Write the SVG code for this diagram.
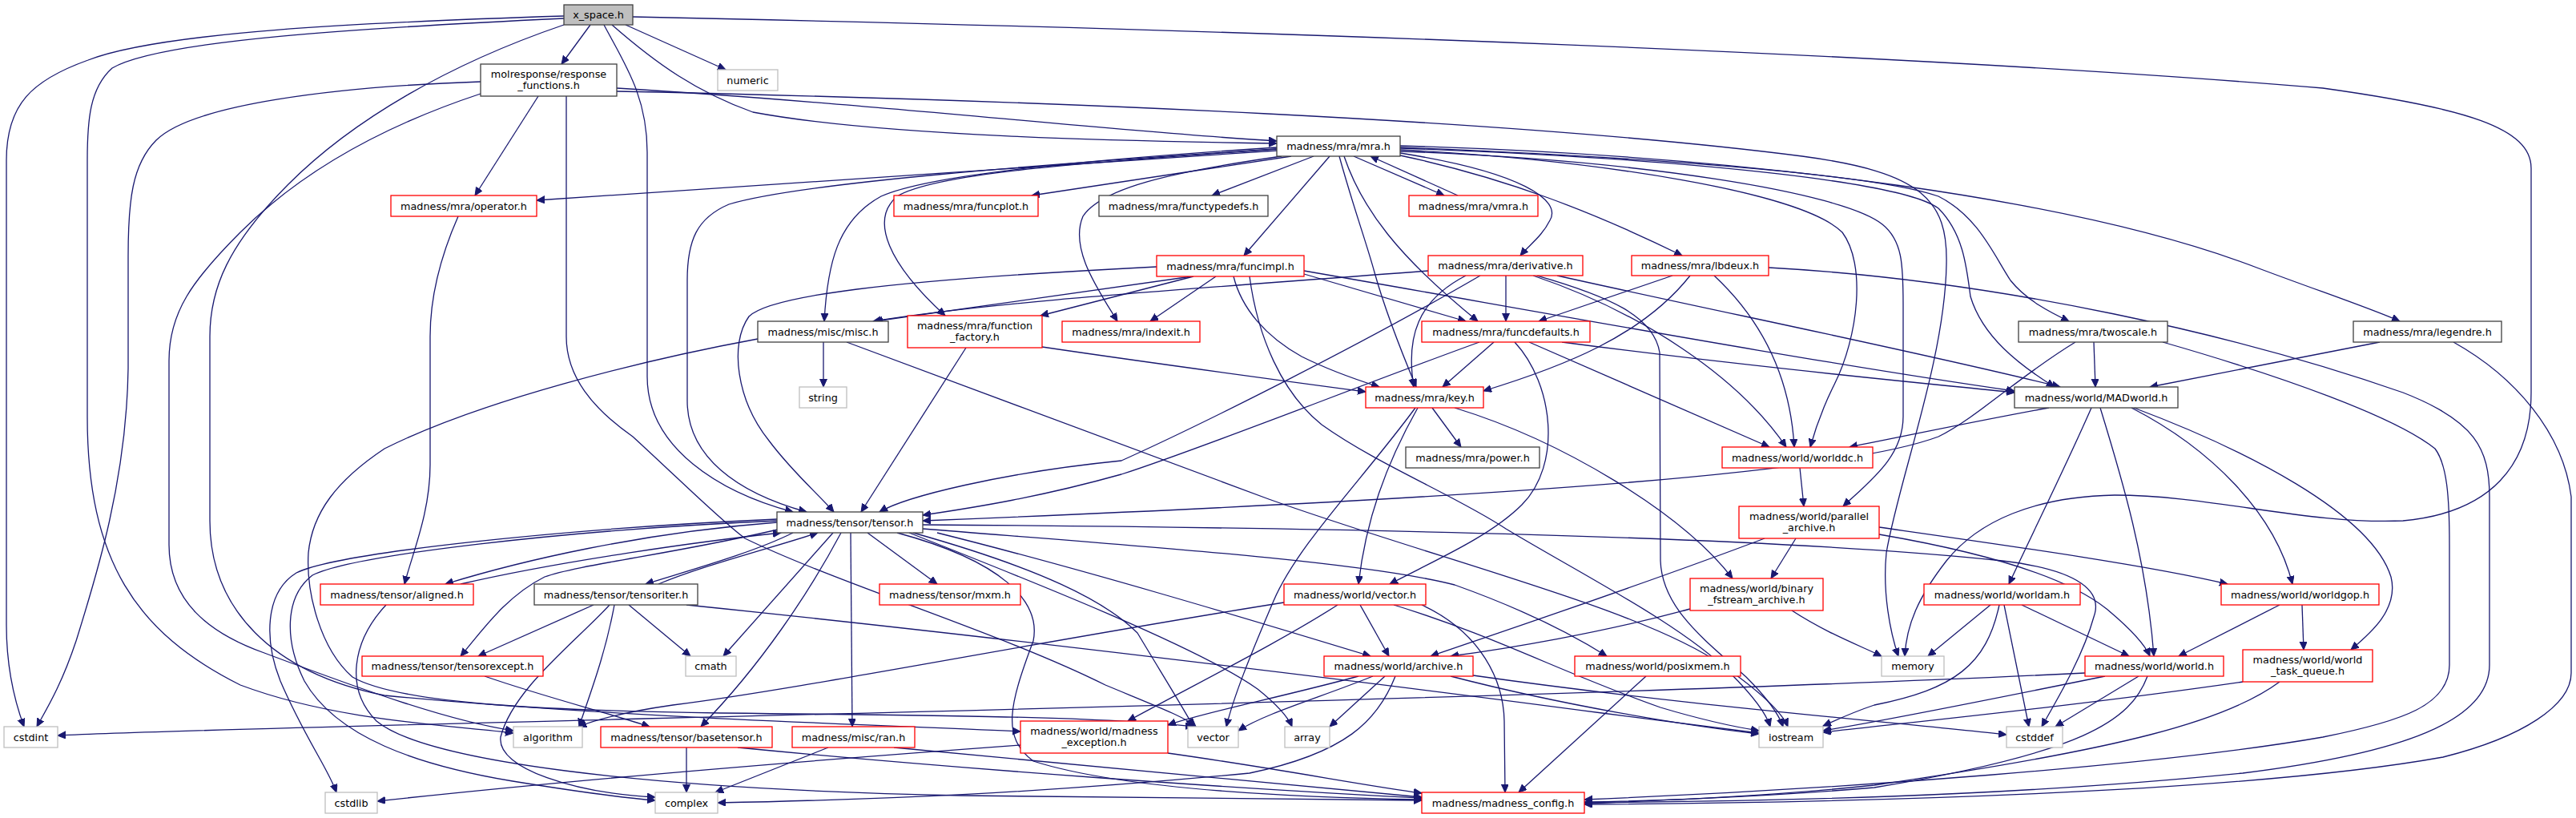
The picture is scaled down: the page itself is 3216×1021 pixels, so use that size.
<svg xmlns="http://www.w3.org/2000/svg" width="3216" height="1021" viewBox="0 0 3216 1021">
<style>
.n rect{fill:#fff;stroke-width:1.3}
.b rect{stroke:#404040}
.r rect{stroke:#ff0000}
.g rect{stroke:#bfbfbf}
.f rect{fill:#bfbfbf}
text{font-family:"DejaVu Sans",sans-serif;font-size:12.8px;fill:#000;text-anchor:middle}
#edges path{fill:none;stroke:#191970;stroke-width:1.3;marker-end:url(#a)}
</style>
<defs>
<marker id="a" markerWidth="11" markerHeight="10" refX="10" refY="4.5" orient="auto" markerUnits="userSpaceOnUse"><path d="M0,0 L10,4.5 L0,9 z" fill="#191970" stroke="#191970" stroke-width="1"/></marker>
</defs>
<rect width="3216" height="1021" fill="#fff"/>
<g id="edges">
<path d="M737,31 L701,80"/>
<path d="M781,31 L906,87"/>
<path d="M764,31 C820,80 870,115 940,140 C1100,170 1400,176 1594,179"/>
<path d="M754,31 C780,80 808,120 808,190 L808,470 C808,560 900,615 990,639"/>
<path d="M704,20 C450,28 200,40 110,75 C40,100 8,130 8,200 L8,780 C8,840 20,880 30,907"/>
<path d="M704,23 C450,35 200,50 140,85 C112,110 109,150 109,200 L109,520 C109,700 170,790 300,855 C420,900 560,905 641,915"/>
<path d="M704,31 C560,80 440,150 360,230 C285,305 262,360 262,420 L262,650 C262,760 340,840 480,868 C760,895 1100,905 1274,913"/>
<path d="M790,21 C1600,38 2400,68 2900,110 C3080,135 3160,160 3160,210 L3160,490 C3160,580 3110,640 3000,650 C2880,655 2760,618 2640,618 C2540,620 2470,650 2430,700 C2395,745 2380,780 2378,819"/>
<path d="M672,120 L593,244"/>
<path d="M600,102 C420,108 240,130 195,175 C165,205 160,250 160,320 L160,460 C158,600 120,720 95,800 C75,860 55,890 46,907"/>
<path d="M600,117 C470,160 370,220 300,290 C240,350 211,390 211,450 L211,680 C211,750 260,790 330,815 C450,860 560,900 641,912"/>
<path d="M770,110 C1100,130 1400,165 1594,176"/>
<path d="M770,114 C1300,125 1900,150 2250,195 C2400,215 2432,250 2430,330 C2428,450 2370,600 2355,690 C2350,740 2360,790 2370,819"/>
<path d="M707,120 L707,420 C707,470 740,510 790,545 C850,600 900,650 930,672 C1050,730 1250,790 1380,855 C1440,880 1480,895 1493,907"/>
<path d="M1594,188 C1300,205 1000,228 670,250"/>
<path d="M1612,195 L1288,244"/>
<path d="M1640,195 L1513,244"/>
<path d="M1660,195 L1553,319"/>
<path d="M1690,195 L1803,244"/>
<path d="M1820,244 L1711,195"/>
<path d="M1748,191 C1900,215 1950,250 1935,275 C1925,295 1910,305 1898,319"/>
<path d="M1748,194 C1880,222 1990,265 2100,319"/>
<path d="M1594,184 C1350,200 1160,218 1100,245 C1045,275 1033,330 1029,401"/>
<path d="M1594,186 C1360,203 1170,215 1120,245 C1085,275 1110,330 1180,394"/>
<path d="M1600,195 C1460,215 1375,235 1352,270 C1335,310 1370,360 1395,401"/>
<path d="M1678,195 C1700,260 1745,320 1845,401"/>
<path d="M1672,195 C1690,260 1705,300 1716,340 C1730,390 1750,440 1768,483"/>
<path d="M1594,186 C1300,205 1000,228 910,255 C870,272 858,300 858,350 L858,500 C858,570 920,615 1007,639"/>
<path d="M1748,187 C2000,200 2250,240 2300,290 C2330,330 2320,420 2290,480 C2275,510 2265,540 2260,558"/>
<path d="M1748,189 C2050,200 2300,240 2350,280 C2375,300 2376,330 2376,380 L2376,520 C2376,570 2335,600 2301,632"/>
<path d="M1748,184 C2100,198 2350,220 2420,245 C2470,270 2490,320 2510,350 C2530,375 2560,390 2583,401"/>
<path d="M1748,182 C2200,195 2600,250 2820,335 C2900,365 2960,385 2996,401"/>
<path d="M1748,185 C2150,200 2380,230 2420,260 C2450,290 2455,330 2460,370 C2475,420 2520,455 2565,483"/>
<path d="M1488,345 L1092,401"/>
<path d="M1490,345 L1299,394"/>
<path d="M1518,345 L1436,401"/>
<path d="M1444,333 C1100,350 960,370 935,395 C910,430 920,500 960,550 C990,590 1020,615 1041,639"/>
<path d="M1628,342 L1830,401"/>
<path d="M1540,345 C1550,385 1580,420 1625,445 C1665,465 1700,476 1722,483"/>
<path d="M1628,338 C1900,385 2250,450 2515,488"/>
<path d="M1560,345 C1570,420 1600,490 1650,530 C1720,580 1820,620 1880,660 C1980,720 2100,780 2160,840 C2190,870 2205,890 2210,907"/>
<path d="M1783,338 C1500,360 1250,375 1090,401"/>
<path d="M1880,344 L1880,401"/>
<path d="M1830,344 C1770,375 1755,420 1765,483"/>
<path d="M1848,344 C1700,430 1500,530 1400,575 C1250,590 1130,620 1098,639"/>
<path d="M1914,344 C2050,390 2170,470 2230,558"/>
<path d="M1944,344 C2150,390 2400,440 2572,483"/>
<path d="M1919,344 C2010,370 2065,395 2072,440 L2073,700 C2075,760 2130,800 2180,845 C2210,875 2222,895 2226,907"/>
<path d="M2088,344 L1921,401"/>
<path d="M2110,344 C2050,420 1950,458 1852,488"/>
<path d="M2140,344 C2200,400 2235,470 2240,558"/>
<path d="M2208,334 C2500,350 2800,420 3000,490 C3090,525 3108,560 3108,620 L3108,830 C3108,900 3000,940 2800,965 C2500,995 2200,1000 1978,1002"/>
<path d="M1865,427 L1801,483"/>
<path d="M1847,427 C1700,480 1500,560 1400,592 C1300,620 1220,633 1152,643"/>
<path d="M1891,427 C1940,480 1950,580 1900,630 C1860,670 1790,700 1735,729"/>
<path d="M1909,427 L2209,558"/>
<path d="M1950,427 C2200,460 2400,478 2515,490"/>
<path d="M1788,509 L1824,558"/>
<path d="M1770,509 C1730,580 1705,650 1696,729"/>
<path d="M1767,509 C1700,600 1620,680 1590,750 C1560,820 1540,870 1531,907"/>
<path d="M1816,509 C1950,550 2100,640 2163,722"/>
<path d="M2614,427 L2616,483"/>
<path d="M2591,427 C2520,470 2470,520 2420,545 C2300,590 1900,620 1152,650"/>
<path d="M2700,427 C2850,470 2990,520 3040,560 C3055,580 3058,620 3058,680 L3058,830 C3058,880 3000,900 2900,920 C2700,955 2300,985 1978,998"/>
<path d="M2971,427 L2684,483"/>
<path d="M3063,427 C3140,470 3200,540 3210,620 L3210,840 C3210,880 3150,920 3050,945 C2800,990 2300,1002 1978,1004"/>
<path d="M2558,509 C2470,525 2400,540 2309,558"/>
<path d="M2611,509 C2580,580 2540,660 2508,729"/>
<path d="M2622,509 C2650,600 2680,700 2689,819"/>
<path d="M2661,509 C2760,560 2840,640 2862,729"/>
<path d="M2664,509 C2800,560 2960,640 2985,720 C2995,760 2960,790 2935,811"/>
<path d="M2247,584 L2252,632"/>
<path d="M2242,672 L2211,722"/>
<path d="M2203,672 C2050,730 1900,780 1786,819"/>
<path d="M2346,658 C2500,680 2680,705 2781,729"/>
<path d="M2346,667 C2480,690 2580,720 2630,760 C2660,785 2678,805 2684,819"/>
<path d="M1698,755 L1734,819"/>
<path d="M1670,755 C1600,800 1500,850 1408,900"/>
<path d="M1775,755 C1850,790 1877,850 1878,900 L1879,989"/>
<path d="M1740,755 C1870,795 1950,840 2073,883 C2130,900 2170,908 2196,912"/>
<path d="M1603,752 C1300,800 1000,860 840,880 C770,890 740,900 722,907"/>
<path d="M1696,844 C1600,870 1500,890 1458,905"/>
<path d="M1714,844 C1650,870 1580,890 1546,912"/>
<path d="M1729,844 L1660,907"/>
<path d="M1811,844 C1950,880 2100,905 2196,916"/>
<path d="M1839,843 C2100,880 2350,900 2505,917"/>
<path d="M1742,844 C1720,900 1680,940 1560,965 C1300,990 1100,998 896,1002"/>
<path d="M970,652 C800,665 650,700 556,729"/>
<path d="M575,729 C700,700 880,675 975,665"/>
<path d="M990,665 C940,690 860,712 806,729"/>
<path d="M822,729 C880,705 960,685 1021,665"/>
<path d="M975,660 C850,690 720,705 680,720 C630,745 600,790 575,819"/>
<path d="M1040,665 L903,819"/>
<path d="M1050,665 C1010,740 950,830 875,907"/>
<path d="M1062,665 L1064,907"/>
<path d="M1083,665 L1170,729"/>
<path d="M970,648 C700,660 420,690 370,715 C330,740 330,800 350,850 C380,920 410,960 420,989"/>
<path d="M970,650 C700,662 440,693 390,718 C355,745 355,800 380,850 C420,920 520,955 640,975 C720,988 780,996 818,999"/>
<path d="M1170,665 C1350,710 1550,770 1711,819"/>
<path d="M1152,660 C1400,680 1700,700 1816,730 C1900,760 1960,790 2006,819"/>
<path d="M1120,665 C1250,700 1300,750 1290,800 C1260,880 1250,920 1290,950 C1400,985 1600,995 1775,998"/>
<path d="M1140,665 C1300,710 1380,750 1420,790 C1450,840 1475,880 1490,907"/>
<path d="M1152,655 C1600,658 2200,668 2500,700 C2600,712 2625,740 2614,770 C2600,820 2570,870 2549,907"/>
<path d="M1135,665 C1300,730 1500,810 1570,860 C1595,880 1608,895 1613,907"/>
<path d="M482,755 C440,800 430,860 470,900 C530,950 800,985 1200,993 C1500,997 1650,998 1775,999"/>
<path d="M572,270 C550,320 537,370 537,420 L537,580 C537,640 515,690 505,729"/>
<path d="M741,755 L597,819"/>
<path d="M785,755 L862,819"/>
<path d="M767,755 C755,820 735,870 723,907"/>
<path d="M761,755 C720,800 640,860 625,920 C620,960 720,990 818,995"/>
<path d="M857,755 C1200,790 1700,850 2000,890 C2100,903 2160,910 2196,915"/>
<path d="M605,844 C680,870 760,890 811,907"/>
<path d="M1028,427 L1028,483"/>
<path d="M1057,427 L1584,623 C1800,700 2050,760 2150,830 C2200,865 2225,890 2232,907"/>
<path d="M946,423 C800,450 600,500 480,560 C420,600 390,640 385,690 C382,740 400,810 440,845 C500,880 700,887 900,890 C1200,893 1380,895 1490,907"/>
<path d="M1206,434 L1075,639"/>
<path d="M1301,433 C1450,455 1600,475 1705,489"/>
<path d="M1034,933 L893,989"/>
<path d="M1116,933 C1400,960 1600,980 1775,995"/>
<path d="M857,933 L857,989"/>
<path d="M921,933 C1200,960 1550,985 1775,996"/>
<path d="M1274,930 C1000,950 700,975 471,1000"/>
<path d="M1458,940 C1600,960 1700,980 1775,990"/>
<path d="M2110,760 C2000,790 1880,810 1811,819"/>
<path d="M2237,762 C2280,790 2320,805 2349,819"/>
<path d="M2055,844 L1896,989"/>
<path d="M2603,840 C2200,860 1500,880 804,897 C500,905 200,912 72,918"/>
<path d="M2628,844 C2500,870 2350,900 2276,912"/>
<path d="M2670,844 L2566,907"/>
<path d="M2681,844 C2660,900 2600,940 2340,983 C2200,995 2050,1000 1978,1001"/>
<path d="M2485,755 L2407,819"/>
<path d="M2524,755 L2658,819"/>
<path d="M2502,755 L2533,907"/>
<path d="M2496,755 C2480,830 2440,860 2340,880 C2310,890 2290,900 2276,906"/>
<path d="M2846,755 L2720,819"/>
<path d="M2874,755 L2876,811"/>
<path d="M2800,851 C2600,880 2400,900 2276,914"/>
<path d="M2846,851 C2780,900 2650,935 2340,980 C2200,995 2050,1000 1978,1003"/>
</g>
<g id="n0" class="n b f"><rect x="704" y="6" width="86" height="25"/><text x="747" y="23">x_space.h</text></g>
<g id="n1" class="n b"><rect x="600" y="80" width="170" height="40"/><text x="685" y="97">molresponse/response</text><text x="685" y="111">_functions.h</text></g>
<g id="n2" class="n g"><rect x="896" y="87" width="75" height="26"/><text x="933.5" y="104.5">numeric</text></g>
<g id="n3" class="n b"><rect x="1594" y="170" width="154" height="25"/><text x="1671" y="187">madness/mra/mra.h</text></g>
<g id="n4" class="n r"><rect x="488" y="244" width="182" height="26"/><text x="579" y="261.5">madness/mra/operator.h</text></g>
<g id="n5" class="n r"><rect x="1116" y="244" width="180" height="26"/><text x="1206" y="261.5">madness/mra/funcplot.h</text></g>
<g id="n6" class="n b"><rect x="1372" y="244" width="211" height="26"/><text x="1477.5" y="261.5">madness/mra/functypedefs.h</text></g>
<g id="n7" class="n r"><rect x="1759" y="244" width="161" height="26"/><text x="1839.5" y="261.5">madness/mra/vmra.h</text></g>
<g id="n8" class="n r"><rect x="1444" y="319" width="184" height="26"/><text x="1536" y="336.5">madness/mra/funcimpl.h</text></g>
<g id="n9" class="n r"><rect x="1783" y="319" width="193" height="25"/><text x="1879.5" y="336">madness/mra/derivative.h</text></g>
<g id="n10" class="n r"><rect x="2037" y="319" width="171" height="25"/><text x="2122.5" y="336">madness/mra/lbdeux.h</text></g>
<g id="n11" class="n b"><rect x="946" y="401" width="163" height="26"/><text x="1027.5" y="418.5">madness/misc/misc.h</text></g>
<g id="n12" class="n r"><rect x="1133" y="394" width="168" height="40"/><text x="1217" y="411">madness/mra/function</text><text x="1217" y="425">_factory.h</text></g>
<g id="n13" class="n r"><rect x="1326" y="401" width="172" height="26"/><text x="1412" y="418.5">madness/mra/indexit.h</text></g>
<g id="n14" class="n r"><rect x="1775" y="401" width="210" height="26"/><text x="1880" y="418.5">madness/mra/funcdefaults.h</text></g>
<g id="n15" class="n b"><rect x="2520" y="401" width="186" height="26"/><text x="2613" y="418.5">madness/mra/twoscale.h</text></g>
<g id="n16" class="n b"><rect x="2938" y="401" width="185" height="26"/><text x="3030.5" y="418.5">madness/mra/legendre.h</text></g>
<g id="n17" class="n g"><rect x="998" y="483" width="59" height="26"/><text x="1027.5" y="500.5">string</text></g>
<g id="n18" class="n r"><rect x="1705" y="483" width="147" height="26"/><text x="1778.5" y="500.5">madness/mra/key.h</text></g>
<g id="n19" class="n b"><rect x="2515" y="483" width="204" height="26"/><text x="2617" y="500.5">madness/world/MADworld.h</text></g>
<g id="n20" class="n b"><rect x="1755" y="558" width="167" height="26"/><text x="1838.5" y="575.5">madness/mra/power.h</text></g>
<g id="n21" class="n r"><rect x="2150" y="558" width="188" height="26"/><text x="2244" y="575.5">madness/world/worlddc.h</text></g>
<g id="n22" class="n r"><rect x="2171" y="632" width="175" height="40"/><text x="2258.5" y="649">madness/world/parallel</text><text x="2258.5" y="663">_archive.h</text></g>
<g id="n23" class="n b"><rect x="970" y="639" width="182" height="26"/><text x="1061" y="656.5">madness/tensor/tensor.h</text></g>
<g id="n24" class="n r"><rect x="400" y="729" width="191" height="26"/><text x="495.5" y="746.5">madness/tensor/aligned.h</text></g>
<g id="n25" class="n b"><rect x="667" y="729" width="204" height="26"/><text x="769" y="746.5">madness/tensor/tensoriter.h</text></g>
<g id="n26" class="n r"><rect x="1098" y="729" width="176" height="26"/><text x="1186" y="746.5">madness/tensor/mxm.h</text></g>
<g id="n27" class="n r"><rect x="1603" y="729" width="177" height="26"/><text x="1691.5" y="746.5">madness/world/vector.h</text></g>
<g id="n28" class="n r"><rect x="2110" y="722" width="166" height="40"/><text x="2193" y="739">madness/world/binary</text><text x="2193" y="753">_fstream_archive.h</text></g>
<g id="n29" class="n r"><rect x="2402" y="729" width="195" height="26"/><text x="2499.5" y="746.5">madness/world/worldam.h</text></g>
<g id="n30" class="n r"><rect x="2773" y="729" width="197" height="26"/><text x="2871.5" y="746.5">madness/world/worldgop.h</text></g>
<g id="n31" class="n r"><rect x="452" y="819" width="226" height="25"/><text x="565" y="836">madness/tensor/tensorexcept.h</text></g>
<g id="n32" class="n g"><rect x="856" y="819" width="63" height="25"/><text x="887.5" y="836">cmath</text></g>
<g id="n33" class="n r"><rect x="1653" y="819" width="186" height="25"/><text x="1746" y="836">madness/world/archive.h</text></g>
<g id="n34" class="n r"><rect x="1966" y="819" width="207" height="25"/><text x="2069.5" y="836">madness/world/posixmem.h</text></g>
<g id="n35" class="n g"><rect x="2349" y="819" width="78" height="25"/><text x="2388" y="836">memory</text></g>
<g id="n36" class="n r"><rect x="2603" y="819" width="173" height="25"/><text x="2689.5" y="836">madness/world/world.h</text></g>
<g id="n37" class="n r"><rect x="2800" y="811" width="162" height="40"/><text x="2881" y="828">madness/world/world</text><text x="2881" y="842">_task_queue.h</text></g>
<g id="n38" class="n g"><rect x="5" y="907" width="67" height="26"/><text x="38.5" y="924.5">cstdint</text></g>
<g id="n39" class="n g"><rect x="641" y="907" width="86" height="26"/><text x="684" y="924.5">algorithm</text></g>
<g id="n40" class="n r"><rect x="750" y="907" width="214" height="26"/><text x="857" y="924.5">madness/tensor/basetensor.h</text></g>
<g id="n41" class="n r"><rect x="989" y="907" width="153" height="26"/><text x="1065.5" y="924.5">madness/misc/ran.h</text></g>
<g id="n42" class="n r"><rect x="1274" y="900" width="184" height="40"/><text x="1366" y="917">madness/world/madness</text><text x="1366" y="931">_exception.h</text></g>
<g id="n43" class="n g"><rect x="1483" y="907" width="63" height="26"/><text x="1514.5" y="924.5">vector</text></g>
<g id="n44" class="n g"><rect x="1604" y="907" width="56" height="26"/><text x="1632" y="924.5">array</text></g>
<g id="n45" class="n g"><rect x="2196" y="907" width="80" height="26"/><text x="2236" y="924.5">iostream</text></g>
<g id="n46" class="n g"><rect x="2505" y="907" width="70" height="26"/><text x="2540" y="924.5">cstddef</text></g>
<g id="n47" class="n g"><rect x="406" y="989" width="65" height="26"/><text x="438.5" y="1006.5">cstdlib</text></g>
<g id="n48" class="n g"><rect x="818" y="989" width="78" height="26"/><text x="857" y="1006.5">complex</text></g>
<g id="n49" class="n r"><rect x="1775" y="989" width="203" height="26"/><text x="1876.5" y="1006.5">madness/madness_config.h</text></g>
</svg>
